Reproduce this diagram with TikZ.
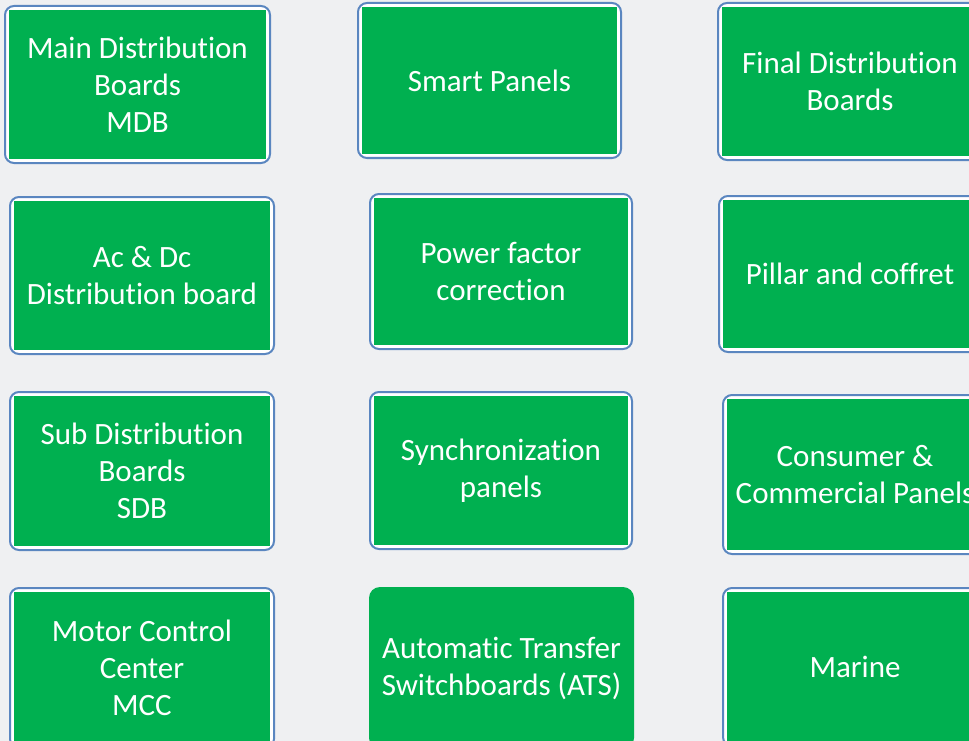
\documentclass[tikz,border=0pt]{standalone}
\usepackage{fontspec}
\setmainfont{Carlito}[RawFeature=-liga]
\definecolor{bggray}{HTML}{EFF0F2}
\definecolor{panelgreen}{HTML}{00B050}
\definecolor{frameblue}{HTML}{5A86C0}
\tikzset{
  frame/.style={fill=white, draw=frameblue, line width=2pt, rounded corners=9pt},
  panel/.style={fill=panelgreen, text=white, inner sep=0pt, align=center,
    font=\fontsize{31}{37}\selectfont},
  atsbox/.style={panel, rounded corners=11pt},
}
\newcommand\pbox[6]{%
  \path[frame] (#2,#3) rectangle (#4,#5);
  \node[panel, minimum width={(#4)-(#2)-8}, minimum height={(#5)-(#3)-8}]
    (#1) at ({((#2)+(#4))/2},{((#3)+(#5))/2}) {#6};
}
\begin{document}
\begin{tikzpicture}[x=1pt,y=-1pt]
\clip (0,0) rectangle (969,741);
\fill[bggray] (0,0) rectangle (969,741);
% column 1
\pbox{mdb}{5}{6}{270}{163}{Main Distribution\\Boards\\MDB}
\pbox{acdc}{10}{197}{274}{354}{Ac \& Dc\\Distribution board}
\pbox{sdb}{10}{392}{274}{550}{Sub Distribution\\Boards\\SDB}
\pbox{mcc}{10}{588}{274}{748}{Motor Control\\Center\\MCC}
% column 2
\pbox{smart}{358}{3}{621}{158}{Smart Panels}
\pbox{pfc}{370}{194}{632}{349}{Power factor\\correction}
\pbox{sync}{370}{392}{632}{549}{Synchronization\\panels}
\node[atsbox, minimum width=265, minimum height=162] (ats) at (501.5,668)
  {Automatic Transfer\\Switchboards (ATS)};
% column 3
\pbox{fdb}{718}{3}{982}{160}{Final Distribution\\Boards}
\pbox{pillar}{719}{196}{981}{352}{Pillar and coffret}
\pbox{consumer}{723}{395}{987}{554}{Consumer \&\\Commercial Panels}
\pbox{marine}{723}{588}{987}{746}{Marine}
\end{tikzpicture}
\end{document}
